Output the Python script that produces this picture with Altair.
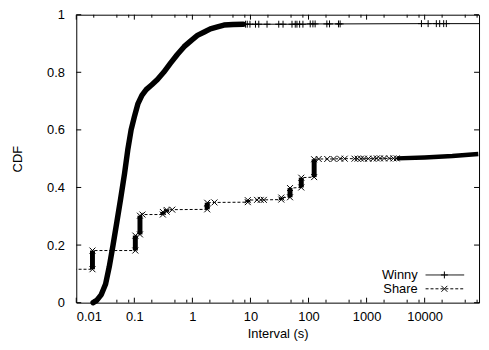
import altair as alt
import pandas as pd

W, H = 407, 291
FONT = "Liberation Sans"

# ---- data ----
winny_dense_x = [0.0195, 0.0225, 0.027, 0.032, 0.037, 0.043, 0.05, 0.058, 0.068, 0.077,
                 0.088, 0.1, 0.115, 0.135, 0.16, 0.2, 0.25, 0.32, 0.42, 0.55,
                 0.72, 0.95, 1.22, 1.6, 2.04, 2.7, 3.5, 5.0, 7.5]
winny_dense_y = [0.0, 0.008, 0.028, 0.065, 0.125, 0.2, 0.28, 0.36, 0.45, 0.53,
                 0.6, 0.645, 0.69, 0.72, 0.74, 0.757, 0.775, 0.8, 0.832, 0.862,
                 0.889, 0.91, 0.928, 0.94, 0.951, 0.958, 0.964, 0.966, 0.967]
winny_sparse_x = [8.2, 8.8, 9.8, 12.2, 13.9, 19.3, 30.7, 36.4, 51.9, 59.1, 63.2, 70.3, 80.1,
                  107, 119, 130, 207, 230, 328, 350, 8810, 11480, 15900, 18150, 21270, 23650]
winny_sparse_y = [0.967, 0.967, 0.967, 0.967, 0.967, 0.967, 0.967, 0.967, 0.967, 0.967, 0.967,
                  0.967, 0.967, 0.968, 0.968, 0.968, 0.968, 0.968, 0.968, 0.968, 0.969, 0.969,
                  0.969, 0.969, 0.969, 0.969]
winny_beyond_x = [200000]
winny_beyond_y = [0.969]

share_x = [0.005, 0.019, 0.019, 0.104, 0.104, 0.125, 0.125, 0.138, 0.31, 0.31, 0.36, 0.36,
           0.45, 1.8, 1.8, 2.4, 9.0, 9.0, 13, 15, 17, 34, 34, 48, 48, 75, 75, 125, 125,
           150, 210, 270, 350, 420, 620, 700, 800, 900, 1070, 1300, 1500, 1700, 2000,
           2450, 2900, 3300]
share_y = [0.116, 0.116, 0.181, 0.181, 0.233, 0.237, 0.302, 0.306, 0.306, 0.315, 0.316, 0.322,
           0.323, 0.324, 0.347, 0.348, 0.349, 0.356, 0.357, 0.357, 0.357, 0.358, 0.365, 0.366,
           0.398, 0.400, 0.434, 0.436, 0.498,
           0.499, 0.499, 0.499, 0.500, 0.500, 0.500, 0.500, 0.500, 0.500, 0.500, 0.500, 0.501,
           0.501, 0.501, 0.501, 0.501, 0.501]
share_bar_x = [0.019, 0.104, 0.125, 0.31, 0.36, 1.8, 9.0, 34, 48, 75, 125]
share_bar_lo = [0.116, 0.181, 0.237, 0.306, 0.316, 0.324, 0.349, 0.358, 0.366, 0.400, 0.436]
share_bar_hi = [0.181, 0.233, 0.302, 0.315, 0.322, 0.347, 0.356, 0.365, 0.398, 0.434, 0.498]
share_band_x = [3300, 10000, 30000, 84000]
share_band_y = [0.501, 0.504, 0.509, 0.516]

x_major = [0.01, 0.1, 1, 10, 100, 1000, 10000]
x_minor = [m * d for d in x_major for m in (2, 5, 8) if m * d < 86400]
y_major = [0, 0.2, 0.4, 0.6, 0.8, 1.0]

xs = alt.Scale(type="log", domain=[0.01, 86400])
ys = alt.Scale(domain=[0, 1])

PLUS = "M-1,0L1,0M0,-1L0,1"
CROSS = "M-1,-1L1,1M-1,1L1,-1"

dense = pd.DataFrame({"x": winny_dense_x, "y": winny_dense_y})
thin = pd.DataFrame({"x": winny_dense_x[-1:] + winny_sparse_x + winny_beyond_x,
                     "y": winny_dense_y[-1:] + winny_sparse_y + winny_beyond_y})
sparse = pd.DataFrame({"x": winny_sparse_x, "y": winny_sparse_y})
share = pd.DataFrame({"x": share_x, "y": share_y, "i": list(range(len(share_x)))})
share_pts = share[share["x"] >= 0.01]
share_band = pd.DataFrame({"x": [share_x[-1]] + share_band_x, "y": [share_y[-1]] + share_band_y})
bars = pd.DataFrame({"x": share_bar_x, "lo": share_bar_lo, "hi": share_bar_hi})

xaxis = alt.Axis(values=x_major, format="~g", title="Interval (s)", ticks=False, domain=False,
                 grid=False, labelPadding=8, titlePadding=4)
yaxis = alt.Axis(values=y_major, format="~g", title="CDF", ticks=False, domain=False, grid=False,
                 labelPadding=12, titleX=-59, titleY=H / 2, titleAngle=270,
                 titleBaseline="middle", titleAlign="center")

X = lambda f: alt.X(f, scale=xs, axis=xaxis)
Y = lambda f: alt.Y(f, scale=ys, axis=yaxis)

winny_thick = alt.Chart(dense).mark_line(color="black", strokeWidth=5.5, strokeCap="round",
                                         strokeJoin="round").encode(x=X("x:Q"), y=Y("y:Q"))
winny_thin = alt.Chart(thin).mark_line(color="black", strokeWidth=1, clip=True).encode(
    x=X("x:Q"), y=Y("y:Q"))
winny_marks = alt.Chart(sparse).mark_point(shape=PLUS, filled=False, color="black", size=49,
                                           strokeWidth=1, opacity=1).encode(
    x=X("x:Q"), y=Y("y:Q"))

share_line = alt.Chart(share).mark_line(color="black", strokeWidth=1, strokeDash=[3, 2],
                                        clip=True).encode(
    x=X("x:Q"), y=Y("y:Q"), order=alt.Order("i:Q"))
share_bars = alt.Chart(bars).mark_rule(color="black", strokeWidth=5).encode(
    x=X("x:Q"), y=Y("lo:Q"), y2="hi:Q")
share_thick = alt.Chart(share_band).mark_line(color="black", strokeWidth=4.5).encode(
    x=X("x:Q"), y=Y("y:Q"))
share_marks = alt.Chart(share_pts).mark_point(shape=CROSS, filled=False, color="black", size=36,
                                              strokeWidth=1, opacity=1).encode(
    x=X("x:Q"), y=Y("y:Q"))

# inward ticks on all four borders (gnuplot style)
xmaj = pd.DataFrame({"v": x_major})
xmin = pd.DataFrame({"v": x_minor})
ymaj = pd.DataFrame({"v": y_major})
tick_layers = []
for df, ln in ((xmaj, 5), (xmin, 3)):
    for y0, y1 in ((H, H - ln), (0, ln)):
        tick_layers.append(alt.Chart(df).mark_rule(color="black", strokeWidth=1).encode(
            x=X("v:Q"), y=alt.value(y0), y2=alt.value(y1)))
for x0, x1 in ((0, 5), (W, W - 5)):
    tick_layers.append(alt.Chart(ymaj).mark_rule(color="black", strokeWidth=1).encode(
        y=Y("v:Q"), x=alt.value(x0), x2=alt.value(x1)))

# key (bottom right, inside)
names = ["Winny", "Share"]
key_layers = []
for k, (name, shape, dash) in enumerate(zip(names, [PLUS, CROSS], [[1, 0], [3, 2]])):
    ky = 263 + 14 * k
    kdf = pd.DataFrame({"name": [name]})
    key_layers.append(alt.Chart(kdf).mark_text(align="right", baseline="middle", font=FONT,
                                               fontSize=13, color="black").encode(
        text="name:N", x=alt.value(345), y=alt.value(ky)))
    key_layers.append(alt.Chart(kdf).mark_rule(color="black", strokeWidth=1,
                                               strokeDash=dash).encode(
        x=alt.value(353), x2=alt.value(392), y=alt.value(ky)))
    key_layers.append(alt.Chart(kdf).mark_point(shape=shape, filled=False, color="black",
                                                size=49 if k == 0 else 36, strokeWidth=1,
                                                opacity=1).encode(
        x=alt.value(372), y=alt.value(ky)))

chart = alt.layer(winny_thick, winny_thin, winny_marks, share_line, share_bars, share_thick,
                  share_marks, *tick_layers, *key_layers).properties(
    width=W, height=H, autosize="none",
    padding={"left": 69, "top": 5, "right": 2, "bottom": 40},
    background="white",
).configure_view(stroke="black", strokeWidth=1).configure_axis(
    labelFont=FONT, titleFont=FONT, labelFontSize=13, titleFontSize=13,
    labelColor="black", titleColor="black", titleFontWeight="normal",
)

chart.save("out.html", embed_options={"renderer": "svg", "actions": False})
